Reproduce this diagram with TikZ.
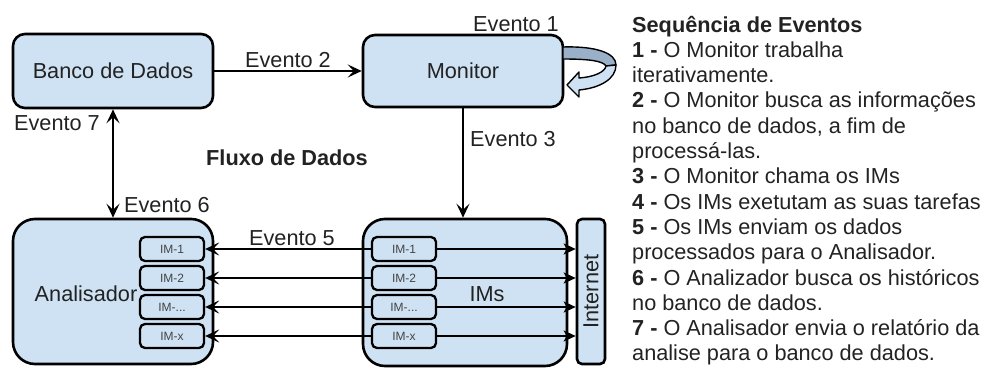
\documentclass[tikz,border=0pt]{standalone}
\usepackage{fontspec}
\setmainfont{Liberation Sans}
\usetikzlibrary{arrows.meta}
\definecolor{boxfill}{HTML}{CFE2F3}
\definecolor{loopdark}{HTML}{9AB0C8}
\definecolor{ink}{HTML}{222222}
\definecolor{smallink}{HTML}{444444}

\tikzset{
  box/.style={draw=black, line width=2.6pt, fill=boxfill, rounded corners=12pt, inner sep=0pt},
  bigbox/.style={box, rounded corners=22pt},
  imbox/.style={draw=black, line width=2.3pt, fill=boxfill, rounded corners=5pt,
    minimum width=64pt, minimum height=24pt, inner sep=0pt,
    font=\fontsize{12}{12}\selectfont, text=smallink},
  lbl/.style={font=\fontsize{21.7}{24}\selectfont, text=ink, inner sep=0pt},
  tip/.style={Stealth[length=14pt,width=13pt,inset=6pt]},
  arr/.style={line width=2pt, -{Stealth[length=14pt,width=13pt,inset=6pt]}},
  biarr/.style={line width=2pt, {Stealth[length=14pt,width=13pt,inset=6pt]}-{Stealth[length=14pt,width=13pt,inset=6pt]}},
  netarr/.style={line width=2pt, -{Stealth[length=12pt,width=11pt,inset=3pt]}},
  seqline/.style={font=\fontsize{21.7}{25.3}\selectfont, text=ink, inner sep=0pt, anchor=base west},
}

\begin{document}
\begin{tikzpicture}[x=1pt, y=-1pt]
\useasboundingbox (0,0) rectangle (983,370);

% main blocks
\node[box, minimum width=200pt, minimum height=74pt, lbl] (banco) at (113,71) {Banco de Dados};
\node[box, minimum width=200pt, minimum height=72pt, lbl] (mon) at (463,71) {Monitor};
\node[bigbox, minimum width=200pt, minimum height=145pt] (anal) at (113,291.5) {};
\node[bigbox, minimum width=204pt, minimum height=147pt] (ims) at (465,292.5) {};
\node[box, rounded corners=5pt, minimum width=28pt, minimum height=145pt] (net) at (591,291.5) {};
\node[lbl, rotate=90] (nettxt) at (591,291.5) {Internet};
\node[lbl] (analtxt) at (86,294) {Analisador};
\node[lbl] (imstxt) at (487,294) {IMs};

% instance modules inside both blocks
\foreach \n/\t/\y in {1/IM-1/249, 2/IM-2/278, 3/{IM-...}/307, 4/IM-x/336}{
  \node[imbox] (a\n) at (172,\y) {\t};
  \node[imbox] (m\n) at (404,\y) {\t};
}

% self loop on the monitor (curved band arrow)
\draw[line width=1.4pt, fill=loopdark, line join=round]
  (563,47) .. controls (596,46) and (616,53) .. (616,65)
  -- (606,66) .. controls (603,61) and (590,59) .. (563,59) -- cycle;
\draw[line width=1.4pt, fill=boxfill, line join=round]
  (616,65) .. controls (616,79) and (600,88) .. (579,90)
  -- (579,97) -- (567,85) -- (579,72) -- (579,78)
  .. controls (594,77) and (605,72) .. (606,66) -- cycle;

% connectors
\draw[arr] (banco.east) -- (mon.west);
\draw[arr] (mon.south) -- (mon.south |- ims.north);
\draw[biarr] (banco.south) -- (banco.south |- anal.north);
\foreach \n in {1,...,4}{
  \draw[arr] (m\n.west) -- (a\n.east);
  \draw[netarr] (m\n.east) -- (m\n.east -| net.west);
}

% event labels
\node[lbl] (e1) at (516,24) {Evento 1};
\node[lbl] (e2) at (288,60) {Evento 2};
\node[lbl] (e3) at (513,139) {Evento 3};
\node[lbl] (e7) at (57,123) {Evento 7};
\node[lbl] (e6) at (167,205) {Evento 6};
\node[lbl] (e5) at (292,238) {Evento 5};
\node[lbl, font=\fontsize{21.7}{24}\selectfont\bfseries] (flux) at (287,158) {Fluxo de Dados};

% sequence of events
\foreach \t [count=\i from 0] in {
  {\textbf{Sequência de Eventos}},
  {\textbf{1 -} O Monitor trabalha},
  {iterativamente.},
  {\textbf{2 -} O Monitor busca as informações},
  {no banco de dados, a fim de},
  {processá-las.},
  {\textbf{3 -} O Monitor chama os IMs},
  {\textbf{4 -} Os IMs exetutam as suas tarefas},
  {\textbf{5 -} Os IMs enviam os dados},
  {processados para o Analisador.},
  {\textbf{6 -} O Analizador busca os históricos},
  {no banco de dados.},
  {\textbf{7 -} O Analisador envia o relatório da},
  {analise para o banco de dados.}}{
  \node[seqline] (s\i) at (632,{32+25.3*\i}) {\t};
}
\end{tikzpicture}
\end{document}
